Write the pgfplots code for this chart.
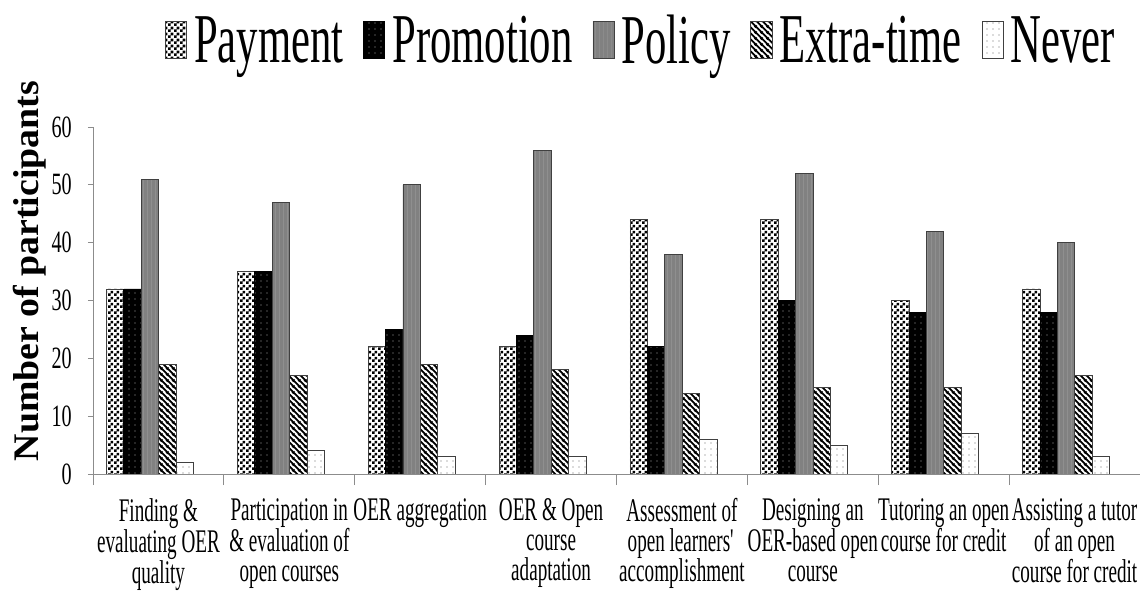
\documentclass[border=0pt]{standalone}
\usepackage{fontspec}
\setmainfont{Liberation Serif}
\newfontfamily\condfont[FakeStretch=0.58]{Liberation Serif}
\newfontfamily\tickfont[FakeStretch=0.65]{Liberation Serif}
\newfontfamily\legfont[FakeStretch=0.61]{Liberation Serif}
\newfontfamily\ylabfont[FakeStretch=1.05]{Liberation Serif}
\usepackage{pgfplots}
\pgfplotsset{compat=1.18}
\usetikzlibrary{patterns}

% fill patterns for the five series
\pgfdeclarepatternformonly{chk}{\pgfqpoint{0pt}{0pt}}{\pgfqpoint{6pt}{6pt}}{\pgfqpoint{6pt}{6pt}}{%
  \pgfpathrectangle{\pgfqpoint{0pt}{0pt}}{\pgfqpoint{3pt}{3pt}}%
  \pgfpathrectangle{\pgfqpoint{3pt}{3pt}}{\pgfqpoint{3pt}{3pt}}%
  \pgfusepath{fill}}
\pgfdeclarepatternformonly{sparsedots}{\pgfqpoint{-1pt}{-1pt}}{\pgfqpoint{7pt}{7pt}}{\pgfqpoint{6pt}{6pt}}{%
  \pgfpathcircle{\pgfqpoint{3pt}{3pt}}{0.7pt}\pgfusepath{fill}}
\pgfdeclarepatternformonly{hfine}{\pgfqpoint{0pt}{0pt}}{\pgfqpoint{4pt}{2.4pt}}{\pgfqpoint{4pt}{2.4pt}}{%
  \pgfsetlinewidth{0.9pt}%
  \pgfpathmoveto{\pgfqpoint{0pt}{1.2pt}}\pgfpathlineto{\pgfqpoint{4pt}{1.2pt}}\pgfusepath{stroke}}
\pgfdeclarepatternformonly{diagstripe}{\pgfqpoint{0pt}{0pt}}{\pgfqpoint{6pt}{6pt}}{\pgfqpoint{6pt}{6pt}}{%
  \pgfsetlinewidth{2pt}%
  \pgfpathmoveto{\pgfqpoint{-1pt}{7pt}}\pgfpathlineto{\pgfqpoint{7pt}{-1pt}}%
  \pgfpathmoveto{\pgfqpoint{-1pt}{1pt}}\pgfpathlineto{\pgfqpoint{1pt}{-1pt}}%
  \pgfpathmoveto{\pgfqpoint{5pt}{7pt}}\pgfpathlineto{\pgfqpoint{7pt}{5pt}}%
  \pgfusepath{stroke}}

\definecolor{axisgray}{RGB}{140,140,140}
\definecolor{policygray}{RGB}{145,145,145}
\definecolor{policyline}{RGB}{100,100,100}

\begin{document}
\begin{tikzpicture}
\useasboundingbox (0pt,0pt) rectangle (1140pt,602pt);
\begin{axis}[
  at={(93pt,128pt)}, anchor=south west,
  scale only axis, width=1047pt, height=347pt,
  xmin=-0.5, xmax=7.5, ymin=0, ymax=60,
  axis x line*=bottom, axis y line*=left,
  axis line style={axisgray, line width=0.8pt},
  tick align=outside,
  ytick={0,10,...,60},
  xtick={0,...,7},
  minor xtick={-0.5,0.5,...,7.5},
  major tick length=5pt, minor tick length=11pt,
  major x tick style={draw=none},
  minor x tick style={axisgray, line width=0.8pt},
  y tick style={axisgray, line width=0.8pt},
  /pgf/number format/assume math mode=true,
  yticklabel style={font=\tickfont\fontsize{31}{31}\selectfont, inner sep=0pt, xshift=-16pt},
  xticklabel style={font=\condfont\fontsize{33}{30}\selectfont, align=center, inner sep=0pt, yshift=-19pt},
  xticklabels={
    {Finding \&\\evaluating OER\\quality},
    {Participation in\\\& evaluation of\\open courses},
    {OER aggregation},
    {OER \& Open\\course\\adaptation},
    {Assessment of\\open learners\textquotesingle\\accomplishment},
    {Designing an\\OER-based open\\course},
    {Tutoring an open\\course for credit},
    {Assisting a tutor\\of an open\\course for credit}},
  ylabel={Number of participants},
  ylabel style={font=\ylabfont\bfseries\fontsize{36}{36}\selectfont, at={(axis description cs:-0.0602,0.585)}, anchor=center},
  ybar, bar width=17.4pt,
  legend columns=5,
  legend style={at={(axis description cs:0.0688,1.25)}, anchor=west, draw=none, fill=none,
    inner sep=0pt, font=\legfont\fontsize{70}{70}\selectfont,
    nodes={inner sep=0pt},
    /tikz/every odd column/.append style={column sep=7pt},
    /tikz/every even column/.append style={column sep=20pt}},
  legend image code/.code={\draw[#1] (0pt,-18pt) rectangle (21pt,19pt);},
]
\addplot[bar shift=-43.3pt, draw=black!75, line width=0.8pt, pattern=chk, pattern color=black]
  coordinates {(0,32) (1,35) (2,22) (3,22) (4,44) (5,44) (6,30) (7,32)};
\addlegendentry{Payment}
\addplot[bar shift=-25.9pt, draw=black, line width=0.8pt, fill=black,
  postaction={pattern=sparsedots, pattern color=gray!70}]
  coordinates {(0,32) (1,35) (2,25) (3,24) (4,22) (5,30) (6,28) (7,28)};
\addlegendentry{Promotion}
\addplot[bar shift=-8.5pt, draw=black!75, line width=0.8pt, fill=policygray,
  postaction={pattern=hfine, pattern color=policyline}]
  coordinates {(0,51) (1,47) (2,50) (3,56) (4,38) (5,52) (6,42) (7,40)};
\addlegendentry{Policy}
\addplot[bar shift=8.9pt, draw=black!75, line width=0.8pt, pattern=diagstripe, pattern color=black]
  coordinates {(0,19) (1,17) (2,19) (3,18) (4,14) (5,15) (6,15) (7,17)};
\addlegendentry{Extra-time}
\addplot[bar shift=26.3pt, draw=black!75, line width=0.8pt, pattern=sparsedots, pattern color=gray!80!black]
  coordinates {(0,2) (1,4) (2,3) (3,3) (4,6) (5,5) (6,7) (7,3)};
\addlegendentry{Never}
\end{axis}
\end{tikzpicture}
\end{document}
